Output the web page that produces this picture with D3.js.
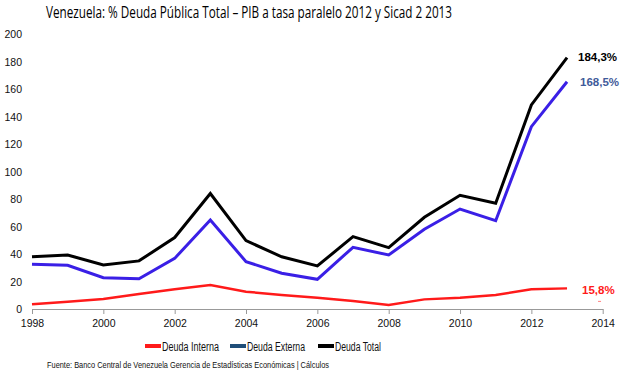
<!DOCTYPE html>
<html lang="es">
<head>
<meta charset="UTF-8">
<title>Venezuela: % Deuda Pública Total</title>
<script src="https://d3js.org/d3.v7.min.js"></script>
<style>
  body { margin: 0; background: #fff; }
  svg { display: block; }
  svg text { font-family: "Liberation Sans", Arial, sans-serif; }
  .line { fill: none; stroke-linejoin: miter; }
</style>
</head>
<body>
<div id="chart"></div>
<script>
const years = [1998, 1999, 2000, 2001, 2002, 2003, 2004, 2005, 2006, 2007, 2008, 2009, 2010, 2011, 2012, 2013];
const deudaInterna = [3.4, 5.3, 7.3, 10.9, 14.3, 17.5, 12.6, 10.2, 8.2, 5.8, 2.9, 7.0, 8.2, 10.2, 14.3, 15.0];
const deudaExterna = [32.5, 31.8, 22.8, 22.0, 36.8, 64.7, 34.4, 26.0, 21.6, 44.9, 39.3, 58.0, 72.7, 64.2, 132.6, 165.3];
const deudaTotal = [38.0, 39.3, 32.0, 35.0, 52.0, 84.0, 49.7, 38.0, 31.3, 52.6, 44.6, 66.7, 82.7, 76.9, 148.4, 182.8];
const xTicks = [1998, 2000, 2002, 2004, 2006, 2008, 2010, 2012, 2014];
const yTicks = [0, 20, 40, 60, 80, 100, 120, 140, 160, 180, 200];

const series = [
  { name: "Deuda Interna", values: deudaInterna, color: "#ff1a1a", width: 2.5, legend: "#ff1a1a", label: "15,8%", labelColor: "#ff1a1a" },
  { name: "Deuda Externa", values: deudaExterna, color: "#3a1fe6", width: 3, legend: "#1f4e79", label: "168,5%", labelColor: "#3f5b9a" },
  { name: "Deuda Total", values: deudaTotal, color: "#000000", width: 3, legend: "#000000", label: "184,3%", labelColor: "#000000" }
];

const width = 626, height = 372;
const svg = d3.select("#chart").append("svg")
  .attr("width", width).attr("height", height);

const x = d3.scaleLinear().domain([1998, 2014]).range([32, 602.7]);
const y = d3.scaleLinear().domain([0, 200]).range([309, 34]);

// title
svg.append("text")
  .attr("x", 46).attr("y", 18)
  .attr("textLength", 406).attr("lengthAdjust", "spacingAndGlyphs")
  .style("font-family", "'Open Sans', sans-serif")
  .style("font-size", "16px")
  .style("fill", "#000")
  .text("Venezuela: % Deuda Pública Total – PIB a tasa paralelo 2012 y Sicad 2 2013");

// y labels (no axis line)
svg.append("g").selectAll("text").data(yTicks).join("text")
  .attr("x", 22).attr("y", d => y(d) + 4)
  .attr("text-anchor", "end")
  .style("font-size", "10.5px").attr("fill", "#111")
  .text(d => d);

// x axis
const xAxis = d3.axisBottom(x).tickValues(xTicks).tickFormat(d3.format("d")).tickSize(5).tickSizeOuter(0);
const gx = svg.append("g").attr("transform", `translate(0,${y(0)})`).call(xAxis);
gx.attr("font-family", null).attr("font-size", null);
gx.select(".domain").attr("stroke", "#999");
gx.selectAll(".tick line").attr("stroke", "#999");
gx.selectAll(".tick text").attr("dy", "0.95em").attr("fill", "#111").style("font-size", "10.5px");

// lines
const line = d3.line().x((d, i) => x(years[i])).y(d => y(d));
svg.append("g").selectAll("path").data(series).join("path")
  .attr("class", "line")
  .attr("stroke", d => d.color)
  .attr("stroke-width", d => d.width)
  .attr("d", d => line(d.values));

// end labels
const labelPos = {
  "Deuda Total": { dx: 11, dy: -1 },
  "Deuda Externa": { dx: 13, dy: 0 },
  "Deuda Interna": { dx: 15, dy: 2 }
};
svg.append("g").selectAll("text").data(series).join("text")
  .attr("x", d => x(years[years.length - 1]) + labelPos[d.name].dx)
  .attr("y", d => y(d.values[d.values.length - 1]) + 4 + labelPos[d.name].dy)
  .style("font-size", "11.5px").style("font-weight", "bold")
  .attr("fill", d => d.labelColor)
  .text(d => d.label);

// small red dash under the 15,8% label
svg.append("line")
  .attr("x1", x(2013) + 31).attr("x2", x(2013) + 34)
  .attr("y1", y(deudaInterna[deudaInterna.length - 1]) + 13)
  .attr("y2", y(deudaInterna[deudaInterna.length - 1]) + 13)
  .attr("stroke", "#ff8080").attr("stroke-width", 1);

// legend
const legendX = [145, 230, 318];
const legendW = [57, 58, 46];
const lg = svg.append("g").selectAll("g").data(series).join("g")
  .attr("transform", (d, i) => `translate(${legendX[i]},346)`);
lg.append("rect").attr("x", 0).attr("y", -2).attr("width", 16).attr("height", 4).attr("fill", d => d.legend);
lg.append("text").attr("x", 17).attr("y", 4.5)
  .attr("textLength", (d, i) => legendW[i]).attr("lengthAdjust", "spacingAndGlyphs")
  .style("font-size", "12px").attr("fill", "#111").text(d => d.name);

// source
svg.append("text")
  .attr("x", 47).attr("y", 368)
  .attr("textLength", 282).attr("lengthAdjust", "spacingAndGlyphs")
  .style("font-size", "9px").attr("fill", "#111")
  .text("Fuente: Banco Central de Venezuela Gerencia de Estadísticas Económicas | Cálculos");
</script>
</body>
</html>
